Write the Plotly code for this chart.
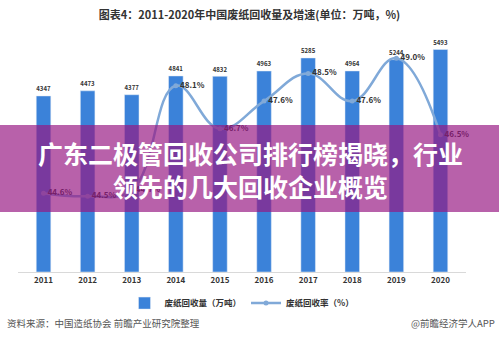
import plotly.graph_objects as go

years = ["2011", "2012", "2013", "2014", "2015", "2016", "2017", "2018", "2019", "2020"]
volume = [4347, 4473, 4377, 4841, 4832, 4963, 5285, 4964, 5244, 5493]
rate = [44.6, 44.5, 44.7, 48.1, 46.7, 47.6, 48.5, 47.6, 49.0, 46.5]

FONT = "Noto Sans CJK SC"

fig = go.Figure()
fig.add_trace(go.Bar(
    x=years, y=volume, name="<b>废纸回收量（万吨）</b>",
    marker_color="#3b82d9", width=0.33,
    text=[f"<b>{v}</b>" for v in volume], textposition="outside",
    textfont=dict(size=8, color="#333333", family=FONT), cliponaxis=False,
))
fig.add_trace(go.Scatter(
    x=years, y=rate, name="<b>废纸回收率（%）</b>", yaxis="y2",
    mode="lines+markers+text",
    line=dict(color="#80a9d8", width=2.5, shape="spline", smoothing=1.2),
    marker=dict(color="#80a9d8", size=5),
    text=[f"<b>{v:.1f}%</b>" for v in rate], textposition="middle right",
    textfont=dict(size=8, color="#333333", family=FONT), cliponaxis=False,
))

fig.update_layout(
    width=499, height=338,
    margin=dict(l=18, r=33, t=29, b=66),
    paper_bgcolor="white", plot_bgcolor="white",
    font=dict(family=FONT, color="#333333"),
    bargap=0.67,
    title=dict(text="<b>图表4：2011-2020年中国废纸回收量及增速(单位：万吨，%)</b>",
               x=0.5, xanchor="center", y=1 - 15 / 338, yanchor="middle",
               font=dict(size=11, color="#333333", family=FONT)),
    xaxis=dict(showline=True, linecolor="#d9d9d9", linewidth=1, ticks="",
               tickfont=dict(size=8, color="#333333", family=FONT), showgrid=False,
               tickvals=years, ticktext=[f"<b>{y}</b>" for y in years]),
    yaxis=dict(range=[0, 6000], visible=False, showgrid=False),
    yaxis2=dict(range=[42.03, 49.95], overlaying="y", visible=False, showgrid=False),
    legend=dict(orientation="h", x=0.5, xanchor="center", y=-0.128, yanchor="middle",
                font=dict(size=8.5, color="#333333", family=FONT), bgcolor="rgba(0,0,0,0)",
                itemwidth=30, tracegroupgap=0),
    showlegend=True,
)

fig.add_shape(type="rect", xref="paper", yref="paper",
              x0=-0.1, x1=1.2, y0=(272 - 212) / 243, y1=(272 - 125) / 243,
              fillcolor="rgba(150,22,130,0.68)", line=dict(width=0), layer="above")

fig.add_annotation(xref="paper", yref="paper", x=(250 - 18) / 448, y=(272 - 153) / 243,
                   text="<b>广东二极管回收公司排行榜揭晓，行业</b>", showarrow=False,
                   font=dict(size=25, color="white", family=FONT), xanchor="center", yanchor="middle")
fig.add_annotation(xref="paper", yref="paper", x=(250 - 18) / 448, y=(272 - 186) / 243,
                   text="<b>领先的几大回收企业概览</b>", showarrow=False,
                   font=dict(size=25, color="white", family=FONT), xanchor="center", yanchor="middle")

fig.add_annotation(xref="paper", yref="paper", x=-13 / 448, y=(272 - 323) / 243,
                   text="资料来源：中国造纸协会 前瞻产业研究院整理", showarrow=False,
                   font=dict(size=9.5, color="#555555", family=FONT), xanchor="left", yanchor="middle")
fig.add_annotation(xref="paper", yref="paper", x=(497 - 18) / 448, y=(272 - 323) / 243,
                   text="@前瞻经济学人APP", showarrow=False,
                   font=dict(size=9.5, color="#555555", family=FONT), xanchor="right", yanchor="middle")

fig.write_html("out.html")
